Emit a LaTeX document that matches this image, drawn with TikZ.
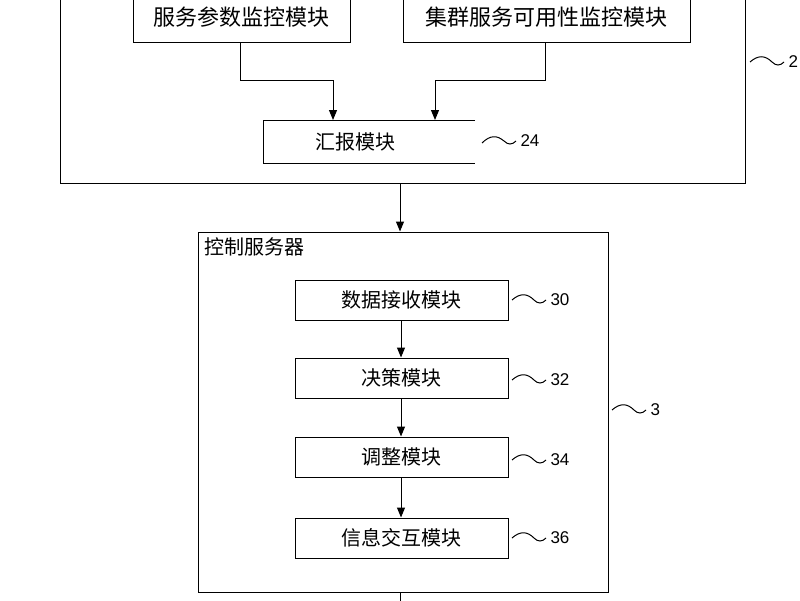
\documentclass[tikz,border=0pt]{standalone}
\usepackage{fontspec}
\setmainfont{Liberation Sans}
\newfontfamily\cjk{Noto Sans CJK SC}
\usetikzlibrary{arrows.meta}
\begin{document}
\begin{tikzpicture}[x=1pt,y=-1pt,
  box/.style={draw,line width=1pt,inner sep=0pt,font=\cjk\fontsize{20}{22}\selectfont},
  arr/.style={line width=1pt,-{Triangle[length=10pt,width=8pt]}},
  ln/.style={line width=1pt},
  lab/.style={font=\fontsize{17}{19}\selectfont,anchor=west}]
\useasboundingbox (0,0) rectangle (800,600);
% outer box 2
\draw[ln] (60,-5) -- (60,183) -- (745,183) -- (745,-5);
\node[box,minimum width=217pt,minimum height=50pt,font=\cjk\fontsize{22}{24}\selectfont] (m1) at (241.5,17) {服务参数监控模块};
\node[box,minimum width=287pt,minimum height=50pt,font=\cjk\fontsize{22}{24}\selectfont] (m2) at (546.5,17) {集群服务可用性监控模块};
\node[font=\cjk\fontsize{20}{22}\selectfont] (m24) at (355,141.5) {汇报模块};
\draw[ln] (475,120) -- (263,120) -- (263,163) -- (475,163);
\draw[arr] (m1.south -| 240,0) |- (333,80) -- (333,120);
\draw[arr] (m2.south -| 545,0) |- (435,80) -- (435,120);
\draw[ln] (482,143) .. controls (490,135) and (497,135) .. (504,141) .. controls (508,145) and (512,145) .. (516,141);
\node[lab] (l24) at (517,141) {24};
\draw[ln] (750,62) .. controls (758,55) and (765,55) .. (772,62) .. controls (776,66) and (780,66) .. (784,62);
\node[lab] (l2) at (785,62) {2};
% control server
\node[draw,line width=1pt,minimum width=410pt,minimum height=360pt] (cs) at (403,412) {};
\node[font=\cjk\fontsize{20}{22}\selectfont,anchor=north west,inner sep=0pt] (cst) at (204,237) {控制服务器};
\draw[arr] (400,183) -- (cs.north -| 400,0);
\node[box,minimum width=213pt,minimum height=40pt] (b30) at (401.5,300) {数据接收模块};
\node[box,minimum width=213pt,minimum height=40pt] (b32) at (401.5,378) {决策模块};
\node[box,minimum width=213pt,minimum height=40pt] (b34) at (401.5,457) {调整模块};
\node[box,minimum width=213pt,minimum height=40pt] (b36) at (401.5,538) {信息交互模块};
\draw[arr] (b30.south -| 401,0) -- (b32.north -| 401,0);
\draw[arr] (b32.south -| 401,0) -- (b34.north -| 401,0);
\draw[arr] (b34.south -| 401,0) -- (b36.north -| 401,0);
\foreach \y/\t in {300/30,380/32,460/34,538/36}{
  \draw[ln] (512,\y) .. controls (520,\y-7) and (527,\y-7) .. (534,\y) .. controls (538,\y+4) and (542,\y+4) .. (546,\y);
  \node[lab] (l\t) at (547,\y) {\t};
}
\draw[ln] (612,410) .. controls (620,403) and (627,403) .. (634,410) .. controls (638,414) and (642,414) .. (646,410);
\node[lab] (l3) at (647,410) {3};
\draw[ln] (400,592) -- (400,605);
\end{tikzpicture}
\end{document}
